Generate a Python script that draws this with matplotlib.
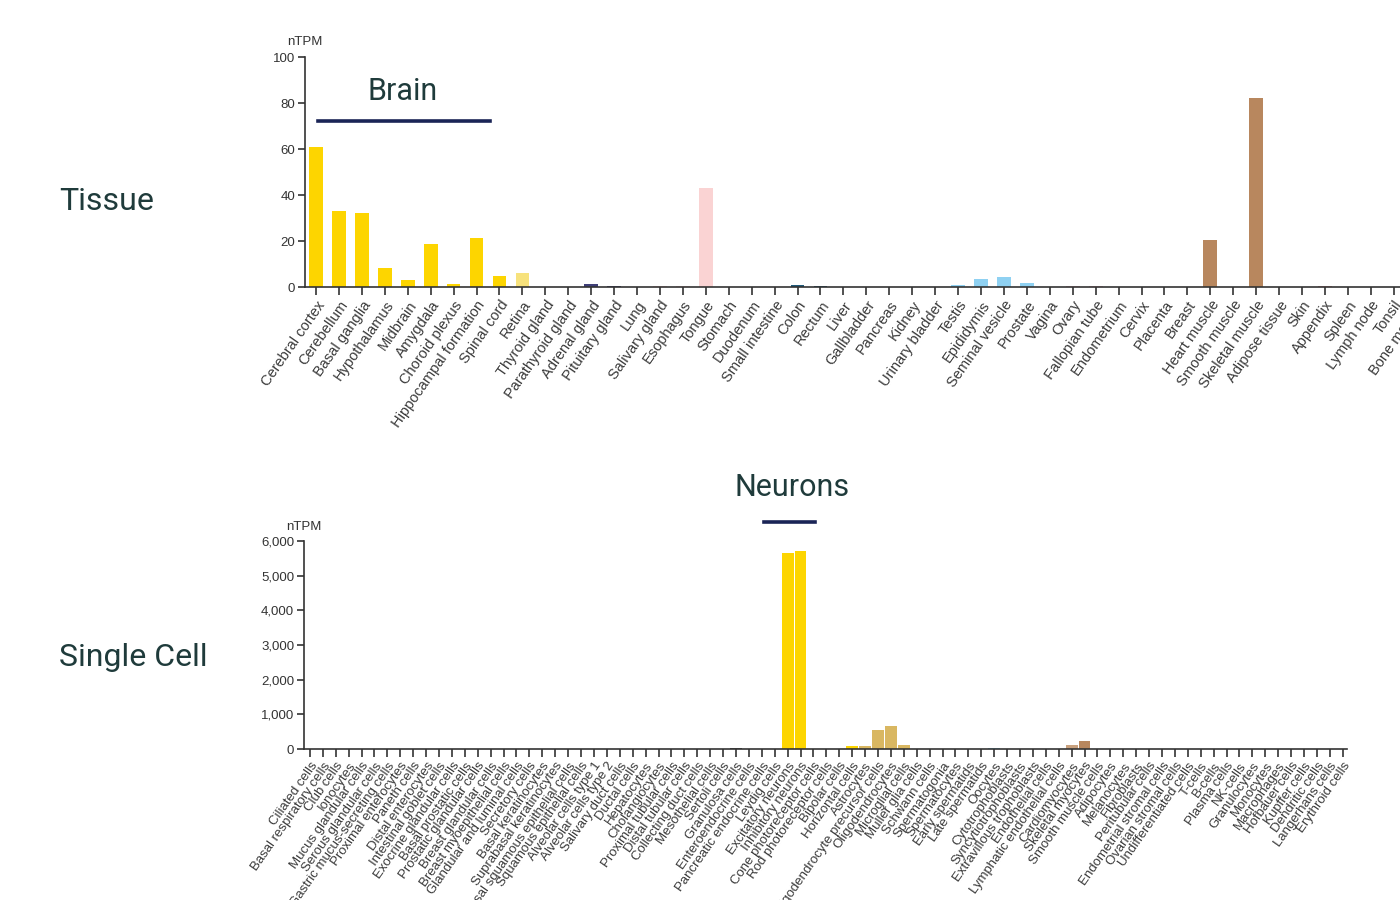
import matplotlib
matplotlib.use('Agg')
import matplotlib.pyplot as plt
from matplotlib.ticker import FuncFormatter

# tissue data (nTPM)
tissues = ['Cerebral cortex', 'Cerebellum', 'Basal ganglia', 'Hypothalamus', 'Midbrain', 'Amygdala',
           'Choroid plexus', 'Hippocampal formation', 'Spinal cord', 'Retina', 'Thyroid gland',
           'Parathyroid gland', 'Adrenal gland', 'Pituitary gland', 'Lung', 'Salivary gland', 'Esophagus',
           'Tongue', 'Stomach', 'Duodenum', 'Small intestine', 'Colon', 'Rectum', 'Liver', 'Gallbladder',
           'Pancreas', 'Kidney', 'Urinary bladder', 'Testis', 'Epididymis', 'Seminal vesicle', 'Prostate',
           'Vagina', 'Ovary', 'Fallopian tube', 'Endometrium', 'Cervix', 'Placenta', 'Breast',
           'Heart muscle', 'Smooth muscle', 'Skeletal muscle', 'Adipose tissue', 'Skin', 'Appendix',
           'Spleen', 'Lymph node', 'Tonsil', 'Bone marrow']
tissue_ntpm = [60.7, 33.1, 32.1, 8.1, 2.9, 18.8, 1.2, 21.4, 4.6, 5.9, 0, 0, 1.3, 0.6, 0, 0.4, 0.3,
               43.0, 0, 0, 0, 0.9, 0.6, 0, 0, 0, 0, 0, 0.8, 3.5, 4.3, 1.7, 0, 0.5, 0.5, 0, 0, 0, 0,
               20.4, 0, 82.2, 0, 0, 0.3, 0, 0, 0, 0]
tissue_groups = (['brain'] * 9 + ['eye'] + ['endocrine'] * 4 + ['lung'] + ['oral'] * 3 + ['gi'] * 5
                 + ['liver'] * 2 + ['pancreas'] + ['kidney'] * 2 + ['male'] * 4 + ['female'] * 7
                 + ['muscle'] * 3 + ['adipose', 'skin'] + ['lymphoid'] * 5)

# single cell data (nTPM)
cells = ['Ciliated cells', 'Basal respiratory cells', 'Club cells', 'Ionocytes', 'Mucus glandular cells',
         'Serous glandular cells', 'Gastric mucus-secreting cells', 'Proximal enterocytes', 'Paneth cells',
         'Distal enterocytes', 'Intestinal goblet cells', 'Exocrine glandular cells', 'Basal prostatic cells',
         'Prostatic glandular cells', 'Breast glandular cells', 'Breast myoepithelial cells',
         'Glandular and luminal cells', 'Secretory cells', 'Basal keratinocytes', 'Suprabasal keratinocytes',
         'Basal squamous epithelial cells', 'Squamous epithelial cells', 'Alveolar cells type 1',
         'Alveolar cells type 2', 'Salivary duct cells', 'Ductal cells', 'Hepatocytes', 'Cholangiocytes',
         'Proximal tubular cells', 'Distal tubular cells', 'Collecting duct cells', 'Mesothelial cells',
         'Sertoli cells', 'Granulosa cells', 'Enteroendocrine cells', 'Pancreatic endocrine cells',
         'Leydig cells', 'Excitatory neurons', 'Inhibitory neurons', 'Cone photoreceptor cells',
         'Rod photoreceptor cells', 'Bipolar cells', 'Horizontal cells', 'Astrocytes',
         'Oligodendrocyte precursor cells', 'Oligodendrocytes', 'Microglial cells', 'Muller glia cells',
         'Schwann cells', 'Spermatogonia', 'Spermatocytes', 'Early spermatids', 'Late spermatids', 'Oocytes',
         'Cytotrophoblasts', 'Syncytiotrophoblasts', 'Extravillous trophoblasts', 'Endothelial cells',
         'Lymphatic endothelial cells', 'Cardiomyocytes', 'Skeletal myocytes', 'Smooth muscle cells',
         'Adipocytes', 'Melanocytes', 'Fibroblasts', 'Peritubular cells', 'Endometrial stromal cells',
         'Ovarian stromal cells', 'Undifferentiated cells', 'T-cells', 'B-cells', 'Plasma cells', 'NK-cells',
         'Granulocytes', 'Monocytes', 'Macrophages', 'Hofbauer cells', 'Kupffer cells', 'Dendritic cells',
         'Langerhans cells', 'Erythroid cells']
cell_ntpm = [0] * 33 + [15, 0, 0, 0, 5640, 5710, 0, 0, 0, 75, 95, 557, 653, 124, 0, 0,
                        0, 0, 0, 0, 40, 0, 0, 0, 0, 0, 110, 230] + [0] * 20
cell_groups = (['other'] * 37 + ['neuron'] * 2 + ['other'] * 3 + ['neuron'] + ['glia'] * 4
               + ['other'] * 6 + ['germ'] + ['other'] * 5 + ['cardio', 'skeletal'] + ['other'] * 20)

tissue_colors = {'brain': '#FDD500', 'eye': '#F7E27C', 'endocrine': '#3F3F78', 'lung': '#9BC0D8',
                 'oral': '#FAD3D3', 'gi': '#1F5A7A', 'liver': '#8E7FB0', 'pancreas': '#9AA07A',
                 'kidney': '#F0A870', 'male': '#8FD1F2', 'female': '#F2BCC4', 'muscle': '#B8875E',
                 'adipose': '#E0C9A0', 'skin': '#C7A8D8', 'lymphoid': '#E39A9A'}
cell_colors = {'neuron': '#FDD500', 'glia': '#D9B761', 'germ': '#8FD1F2', 'cardio': '#C9A17E',
               'skeletal': '#B8875E', 'other': '#555555'}

txt_dark = '#1F3B3B'
navy = '#1A2456'
axis_col = '#333333'
plt.rcParams['font.family'] = ['Liberation Sans', 'DejaVu Sans']

fig = plt.figure(figsize=(14, 9), dpi=100)


def style_axis(ax, fs_x):
    for s in ['top', 'right']:
        ax.spines[s].set_visible(False)
    for s in ['left', 'bottom']:
        ax.spines[s].set_color(axis_col)
        ax.spines[s].set_linewidth(1.2)
    ax.tick_params(axis='x', length=6, width=1.2, color=axis_col, pad=2, labelsize=fs_x,
                   labelcolor='#3a3a3a')
    ax.tick_params(axis='y', length=5, width=1.2, color=axis_col, pad=2, labelsize=9.5,
                   labelcolor='#333333')
    for lab in ax.get_xticklabels():
        lab.set_rotation(55)
        lab.set_ha('right')
        lab.set_va('top')
        lab.set_rotation_mode('anchor')


# --- Tissue ---
ax1 = fig.add_axes([305 / 1400, 1 - 287 / 900, 1134.6 / 1400, 230 / 900])
ax1.bar(range(len(tissues)), tissue_ntpm, width=0.6,
        color=[tissue_colors[g] for g in tissue_groups])
ax1.set_xlim(-0.48, 49.0)
ax1.set_ylim(0, 100)
ax1.set_yticks([0, 20, 40, 60, 80, 100])
ax1.set_xticks(range(len(tissues)))
ax1.set_xticklabels(tissues)
style_axis(ax1, 10.5)
ax1.text(0, 1.04, 'nTPM', transform=ax1.transAxes, ha='center', va='bottom', fontsize=9.5, color='#333333')

# --- Single cell ---
ax2 = fig.add_axes([304 / 1400, 1 - 749 / 900, 1042.6 / 1400, 208 / 900])
ax2.bar(range(len(cells)), cell_ntpm, width=0.92,
        color=[cell_colors[g] for g in cell_groups])
ax2.set_xlim(-0.46, 80.3)
ax2.set_ylim(0, 6000)
ax2.set_yticks(range(0, 6001, 1000))
ax2.yaxis.set_major_formatter(FuncFormatter(lambda v, p: f'{int(v):,}'))
ax2.set_xticks(range(len(cells)))
ax2.set_xticklabels(cells)
style_axis(ax2, 9.5)
ax2.text(0, 1.04, 'nTPM', transform=ax2.transAxes, ha='center', va='bottom', fontsize=9.5, color='#333333')

# side titles and annotations
fig.text(59 / 1400, 1 - 201 / 900, 'Tissue', fontsize=23, color=txt_dark, family='Roboto', va='center')
fig.text(59 / 1400, 1 - 658 / 900, 'Single Cell', fontsize=23, color=txt_dark, family='Roboto', va='center')
fig.text(403 / 1400, 1 - 91 / 900, 'Brain', fontsize=22, color=txt_dark, family='Roboto',
         ha='center', va='center')
fig.text(792 / 1400, 1 - 487 / 900, 'Neurons', fontsize=22, color=txt_dark, family='Roboto',
         ha='center', va='center')
fig.add_artist(plt.Line2D([318 / 1400, 490 / 1400], [1 - 121 / 900] * 2, color=navy, lw=2.6))
fig.add_artist(plt.Line2D([764 / 1400, 815 / 1400], [1 - 522 / 900] * 2, color=navy, lw=2.6))

fig.savefig('out.png', dpi=100)
